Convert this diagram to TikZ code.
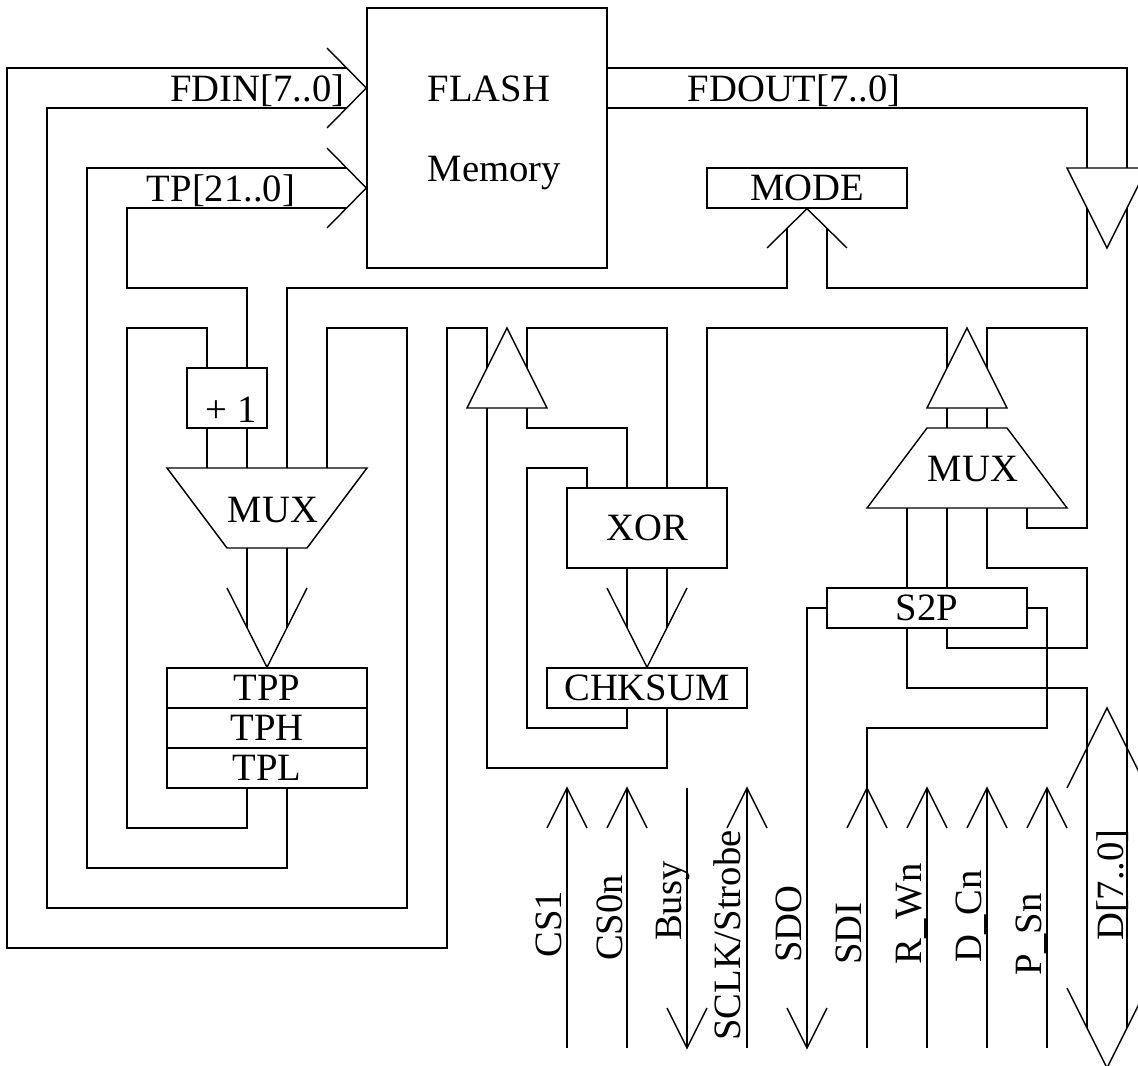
\documentclass[tikz,border=0pt]{standalone}
\usepackage{fontspec}
\setmainfont{Liberation Serif}
\newcommand{\sigfont}{\fontsize{27.5}{33}\selectfont}

\begin{document}
\begin{tikzpicture}[
  line width=1pt,
  box/.style={draw, line width=1pt, inner sep=0pt, font=\sigfont},
  lbl/.style={inner sep=0pt, font=\sigfont},
  vlbl/.style={inner sep=0pt, font=\sigfont, rotate=90, anchor=base west},
  wire/.style={line width=1pt},
  chev/.style={line width=1pt, miter limit=20}
]
  \useasboundingbox (-0.175,0.2) rectangle (28.275,-26.45);

  % Flash and mode
  \node[box, minimum width=6cm, minimum height=6.5cm] (flash) at (12,-3.25) {};
  \node[lbl, anchor=base west] (flashlbl) at (10.5,-2.35) {FLASH};
  \node[lbl, anchor=base west] (memlbl) at (10.5,-4.35) {Memory};
  \node[box, minimum width=5cm, minimum height=1cm] (mode) at (20,-4.5) {MODE};
  \node[lbl, anchor=base east] (fdinlbl) at (8.45,-2.35) {FDIN[7..0]};
  \node[lbl, anchor=base east] (tplbl) at (7.22,-4.85) {TP[21..0]};
  \node[lbl, anchor=base west] (fdoutlbl) at (17,-2.35) {FDOUT[7..0]};

  % Test pointer path
  \node[box, minimum width=2cm, minimum height=1.5cm] (plusone) at (5.5,-9.75) {};
  \node[lbl, anchor=base] (plusonelbl) at (5.6,-10.375) {+ 1};
  \draw (4,-11.5) -- (9,-11.5) -- (7.5,-13.5) -- (5.5,-13.5) -- cycle;
  \node[lbl, anchor=base] (muxl) at (6.65,-12.85) {MUX};
  \node[box, minimum width=5cm, minimum height=1cm] (tpp) at (6.5,-17) {TPP};
  \node[box, minimum width=5cm, minimum height=1cm] (tph) at (6.5,-18) {TPH};
  \node[box, minimum width=5cm, minimum height=1cm] (tpl) at (6.5,-19) {TPL};

  % Checksum path
  \node[box, minimum width=4cm, minimum height=2cm] (xor) at (16,-13) {XOR};
  \node[box, minimum width=5cm, minimum height=1cm] (chksum) at (16,-17) {CHKSUM};

  % Serial path
  \draw (23,-10.5) -- (25,-10.5) -- (26.5,-12.5) -- (21.5,-12.5) -- cycle;
  \node[lbl, anchor=base] (muxr) at (24.15,-11.85) {MUX};
  \node[box, minimum width=5cm, minimum height=1cm] (s2p) at (23,-15) {S2P};

  % Buffers
  \draw (12.5,-8) -- (13.5,-10) -- (11.5,-10) -- cycle;
  \draw (24,-8) -- (25,-10) -- (23,-10) -- cycle;
  \draw (26.5,-4) -- (28.5,-4) -- (27.5,-6) -- cycle;

  % Bus arrow heads
  \draw[chev] (8,-1) -- (flash.west |- 0,-2) -- (8,-3);
  \draw[chev] (8,-3.5) -- (flash.west |- 0,-4.5) -- (8,-5.5);
  \draw[chev] (19,-6) -- (mode.south) -- (21,-6);
  \draw[chev] (5.5,-14.5) -- (tpp.north) -- (7.5,-14.5);
  \draw[chev] (15,-14.5) -- (chksum.north) -- (17,-14.5);
  \draw[chev] (26.5,-19.5) -- (27.5,-17.5) -- (28.5,-19.5);
  \draw[chev] (26.5,-24.5) -- (27.5,-26.5) -- (28.5,-24.5);

  % FDIN and TP buses
  \draw[wire] (8.5,-1.5) -| (0,-23.5) -| (11,-8) -| (12,-9);
  \draw[wire] (8.5,-2.5) -| (1,-22.5) -| (10,-8) -| (8,-11.5);
  \draw[wire] (8.5,-4) -| (2,-21.5) -| (7,-19.5);
  \draw[wire] (8.5,-5) -| (3,-7) -| (6,-9);
  \draw[wire] (6,-19.5) |- (3,-20.5) |- (5,-8) -- (5,-9);
  \draw[wire] (5,-10.5) -- (5,-11.5);
  \draw[wire] (6,-10.5) -- (6,-11.5);
  \draw[wire] (6,-13.5) -- (6,-15.5);
  \draw[wire] (7,-13.5) -- (7,-15.5);

  % FDOUT and MODE
  \draw[wire] (15,-1.5) -| (28,-4);
  \draw[wire] (15,-2.5) -| (27,-4);
  \draw[wire] (28,-5) -- (28,-25.5);
  \draw[wire] (19.5,-5.5) |- (7,-7) -- (7,-11.5);
  \draw[wire] (20.5,-5.5) |- (27,-7) -- (27,-5);

  % XOR and CHKSUM
  \draw[wire] (13,-9) |- (16.5,-8) -- (16.5,-12);
  \draw[wire] (12,-10) |- (16.5,-19) -- (16.5,-17.5);
  \draw[wire] (13,-10) |- (15.5,-10.5) -- (15.5,-12);
  \draw[wire] (15.5,-17.5) |- (13,-18) |- (14.5,-11.5) -- (14.5,-12);
  \draw[wire] (17.5,-12) |- (23.5,-8) -- (23.5,-9);
  \draw[wire] (15.5,-14) -- (15.5,-15.5);
  \draw[wire] (16.5,-14) -- (16.5,-15.5);

  % MUX and S2P
  \draw[wire] (24.5,-9) |- (27,-8) |- (25.5,-13) -- (25.5,-12.5);
  \draw[wire] (23.5,-10) -- (23.5,-10.5);
  \draw[wire] (24.5,-10) -- (24.5,-10.5);
  \draw[wire] (22.5,-12.5) -- (22.5,-14.5);
  \draw[wire] (23.5,-12.5) -- (23.5,-14.5);
  \draw[wire] (24.5,-12.5) |- (27,-14) |- (23.5,-16) -- (23.5,-15.5);
  \draw[wire] (22.5,-15.5) |- (27,-17) -- (27,-25.5);
  \draw[wire] (s2p.west) -| (20,-26);
  \draw[wire] (s2p.east) -| (26,-18) -| (21.5,-26);

  % Pins
  \draw[wire] (14,-19.5) -- (14,-26);
  \draw[chev] (13.5,-20.5) -- (14,-19.5) -- (14.5,-20.5);
  \draw[wire] (15.5,-19.5) -- (15.5,-26);
  \draw[chev] (15,-20.5) -- (15.5,-19.5) -- (16,-20.5);
  \draw[wire] (17,-19.5) -- (17,-26);
  \draw[chev] (16.5,-25) -- (17,-26) -- (17.5,-25);
  \draw[wire] (18.5,-19.5) -- (18.5,-26);
  \draw[chev] (18,-20.5) -- (18.5,-19.5) -- (19,-20.5);
  \draw[chev] (19.5,-25) -- (20,-26) -- (20.5,-25);
  \draw[chev] (21,-20.5) -- (21.5,-19.5) -- (22,-20.5);
  \draw[wire] (23,-19.5) -- (23,-26);
  \draw[chev] (22.5,-20.5) -- (23,-19.5) -- (23.5,-20.5);
  \draw[wire] (24.5,-19.5) -- (24.5,-26);
  \draw[chev] (24,-20.5) -- (24.5,-19.5) -- (25,-20.5);
  \draw[wire] (26,-19.5) -- (26,-26);
  \draw[chev] (25.5,-20.5) -- (26,-19.5) -- (26.5,-20.5);

  % Pin names
  \node[vlbl] (cs1) at (13.86,-23.75) {CS1};
  \node[vlbl] (cs0n) at (15.39,-23.84) {CS0n};
  \node[vlbl] (busy) at (16.86,-23.34) {Busy};
  \node[vlbl] (sclk) at (18.34,-25.84) {SCLK/Strobe};
  \node[vlbl] (sdo) at (19.87,-23.88) {SDO};
  \node[vlbl] (sdi) at (21.35,-23.93) {SDI};
  \node[vlbl] (rwn) at (22.87,-23.93) {R\_Wn};
  \node[vlbl] (dcn) at (24.35,-23.88) {D\_Cn};
  \node[vlbl] (psn) at (25.87,-24.2) {P\_Sn};
  \node[vlbl] (dbus) at (27.92,-23.34) {D[7..0]};
\end{tikzpicture}
\end{document}
